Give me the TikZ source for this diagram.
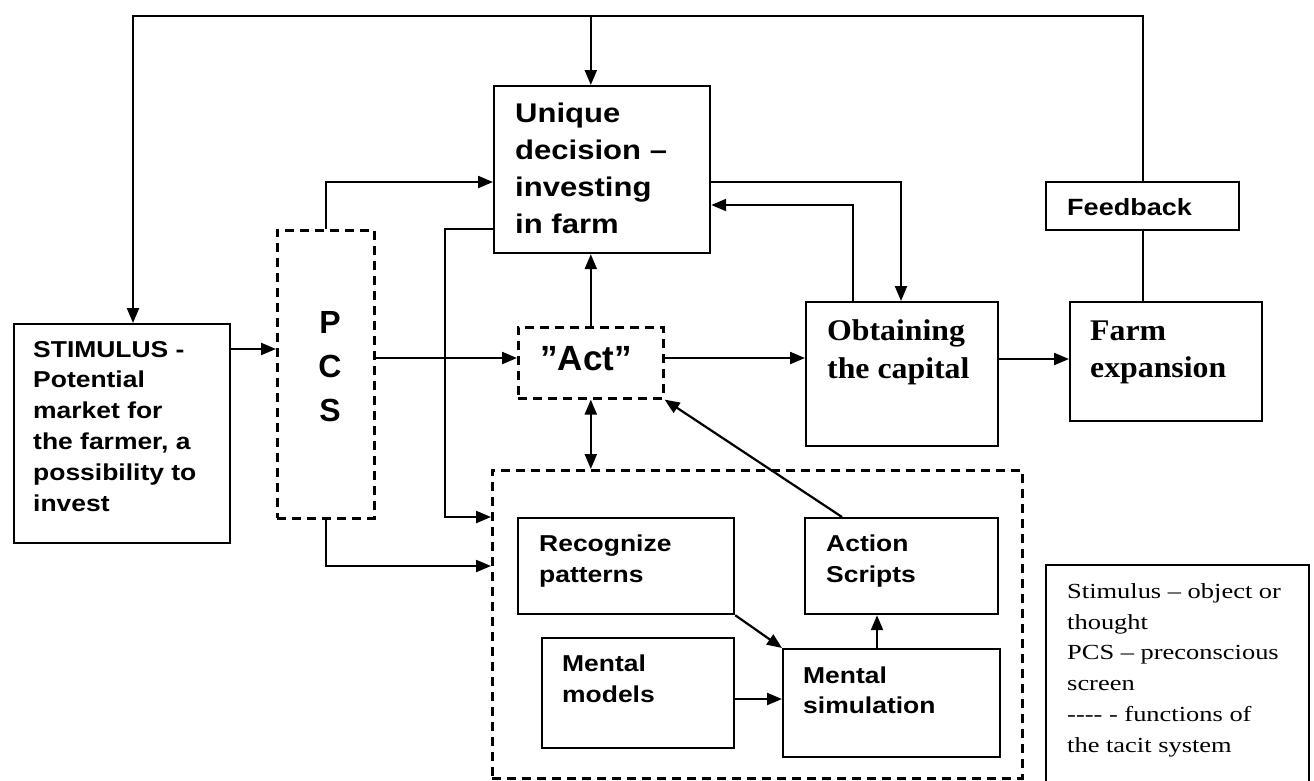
\documentclass[tikz,border=0pt]{standalone}
\usepackage{fontspec}
\usetikzlibrary{arrows.meta,calc}
\newfontfamily\sfw[FakeStretch=1.15]{Liberation Sans}
\newfontfamily\sfn{Liberation Sans}
\newfontfamily\rmo[FakeStretch=1.06]{Liberation Serif}
\newfontfamily\rml[FakeStretch=1.23]{Liberation Serif}
\begin{document}
\begin{tikzpicture}[x=1pt,y=-1pt,
  solidbox/.style={draw,line width=2.2pt,inner sep=0pt,anchor=north west},
  dashbox/.style={draw,line width=2.6pt,dash pattern=on 9pt off 6pt,inner sep=0pt,anchor=north west},
  txt/.style={inner sep=0pt,anchor=base west,align=left},
  arr/.style={line width=2.2pt,-{Triangle[length=15pt,width=12pt]}},
  arrb/.style={line width=2.2pt,{Triangle[length=15pt,width=12pt]}-{Triangle[length=15pt,width=12pt]}},
  plain/.style={line width=2.2pt}]
\useasboundingbox (0,0) rectangle (1314,780);
% boxes
\node[solidbox,minimum width=216pt,minimum height=219pt] (stim) at (13,323) {};
\node[dashbox,minimum width=97pt,minimum height=288pt] (pcs) at (276,229) {};
\node[solidbox,minimum width=216pt,minimum height=167pt] (uniq) at (493,85) {};
\node[dashbox,minimum width=145pt,minimum height=71pt] (act) at (517,326) {};
\node[solidbox,minimum width=192pt,minimum height=144pt] (obt) at (805,301) {};
\node[solidbox,minimum width=192pt,minimum height=119pt] (farm) at (1069,301) {};
\node[solidbox,minimum width=193pt,minimum height=48pt] (fb) at (1045,181) {};
\node[dashbox,minimum width=530pt,minimum height=308pt] (tacit) at (491,469) {};
\node[solidbox,minimum width=216pt,minimum height=96pt] (rec) at (517,517) {};
\node[solidbox,minimum width=192pt,minimum height=110pt] (mm) at (541,637) {};
\node[solidbox,minimum width=193pt,minimum height=96pt] (as) at (804,517) {};
\node[solidbox,minimum width=217pt,minimum height=108pt] (ms) at (782,648) {};
\coordinate (lgA) at (1046,785);
\coordinate (lgB) at (1309,565);
\draw[line width=2.2pt] (lgA) |- (lgB) -- (lgB |- lgA);
% texts (anchor = baseline of the last line)
\node[txt,font={\sfw\bfseries\fontsize{27}{37}\selectfont}] (uniq-t) at (515,233) {Unique\\decision –\\investing\\in farm};
\node[txt,font={\sfw\bfseries\fontsize{23}{30.8}\selectfont}] (stim-t) at (33,511) {STIMULUS -\\Potential\\market for\\the farmer, a\\possibility to\\invest};
\node[txt,anchor=base,align=center,font={\sfn\bfseries\fontsize{32}{44}\selectfont}] (pcs-t) at (330,421) {P\\C\\S};
\node[txt,anchor=base,font={\sfn\bfseries\fontsize{35}{40}\selectfont}] (act-t) at (586,370) {”Act”};
\node[txt,font={\rmo\bfseries\fontsize{30}{38}\selectfont}] (obt-t) at (827,378) {Obtaining\\the capital};
\node[txt,font={\rmo\bfseries\fontsize{30}{37}\selectfont}] (farm-t) at (1090,377) {Farm\\expansion};
\node[txt,font={\sfw\bfseries\fontsize{23.5}{30}\selectfont}] (fb-t) at (1067,215) {Feedback};
\node[txt,font={\sfw\bfseries\fontsize{23}{31}\selectfont}] (rec-t) at (539,582) {Recognize\\patterns};
\node[txt,font={\sfw\bfseries\fontsize{23}{31}\selectfont}] (mm-t) at (562,702) {Mental\\models};
\node[txt,font={\sfw\bfseries\fontsize{23}{31}\selectfont}] (as-t) at (826,582) {Action\\Scripts};
\node[txt,font={\sfw\bfseries\fontsize{23}{30}\selectfont}] (ms-t) at (803,713) {Mental\\simulation};
\node[txt,font={\rml\fontsize{21.5}{30.7}\selectfont}] (lg-t) at (1067,752) {Stimulus – object or\\thought\\PCS – preconscious\\screen\\-{}-{}-{}- - functions of\\the tacit system};
% connectors
\coordinate (tl) at ($(stim.north west)+(120,-307)$);
\draw[plain] (fb.south) -- (fb.south |- farm.north);
\draw[arr] (fb.north) |- (tl) -- (tl |- stim.north);
\draw[arr] (act.north |- tl) -- (act.north |- uniq.north);
\draw[arr] ($(stim.north east)+(0,26)$) -- ($(pcs.north west)+(0,120)$);
\draw[arr] ($(pcs.north east)+(0,129)$) -- ($(act.north west)+(0,32)$);
\draw[arr] (pcs.north) |- ($(uniq.north west)+(0,97)$);
\draw[arr] ($(uniq.north west)+(0,144)$) -- ++(-48,0) |- ($(tacit.north west)+(0,48)$);
\draw[arr] (pcs.south) |- ($(tacit.north west)+(0,97)$);
\draw[arr] (act.north) -- (act.north |- uniq.south);
\draw[arrb] (act.south) -- (act.south |- tacit.north);
\draw[arr] ($(act.north east)+(0,32)$) -- ($(obt.north west)+(0,57)$);
\draw[arr] ($(uniq.north east)+(0,97)$) -| ($(obt.north west)+(96,0)$);
\draw[arr] ($(obt.north west)+(48,0)$) |- ($(uniq.north east)+(0,120)$);
\draw[arr] ($(obt.north east)+(0,58)$) -- ($(farm.north west)+(0,58)$);
\draw[arr] (rec.south east) -- (ms.north west);
\draw[arr] ($(mm.north east)+(0,62)$) -- ($(ms.north west)+(0,51)$);
\draw[arr] ($(ms.north west)+(95,0)$) -- ($(as.south west)+(73,0)$);
\draw[arr] ($(as.north west)+(38,0)$) -- (act.south east);
\end{tikzpicture}
\end{document}
